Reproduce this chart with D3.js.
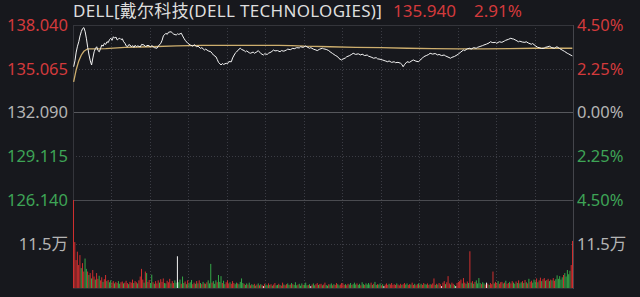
<!doctype html>
<html>
<head>
<meta charset="utf-8">
<script src="https://d3js.org/d3.v7.min.js"></script>
<style type="text/css">
  body{margin:0;background:#17181d;}
  svg{display:block;}
  text{font-family:"Noto Sans","Noto Sans CJK SC",sans-serif;}
  .grid{shape-rendering:crispEdges;}
  .axis path.domain{display:none;}
</style>
</head>
<body>
<svg id="chart" width="640" height="297"></svg>
<script type="text/javascript">
// ---- data ----
var title = 'DELL[戴尔科技(DELL TECHNOLOGIES)]';
var lastPrice = '135.940';
var lastPct = '2.91%';
var preClose = 132.090;
var priceTicks = [138.040, 135.065, 132.090, 129.115, 126.140];
var pctLabels = ['4.50%', '2.25%', '0.00%', '2.25%', '4.50%'];
var tickKind = ['up', 'up', 'flat', 'down', 'down'];
var volTicks = [11.5];
var volTop = 23;
var halfHours = [30, 60, 90, 120, 150, 180, 210, 240, 270, 300, 330, 360];

// [minute, price]
var price = [[0,135.20],[1,135.6],[2,136.2],[3,136.6],[4,136.9],[5,137.3],[6,137.6],[7,137.8],[8,137.86],[9,137.58],
  [10,137.1],[11,136.5],[12,136.0],[13,135.6],[14,135.32],[15,135.8],[16,136.22],[17,136.45],[18,136.56],[19,136.3],
  [20,136.22],[21,136.45],[22,136.68],[23,136.6],[24,136.8],[25,136.72],[26,136.9],[27,136.85],[28,137.05],[29,137.14],
  [30,137.0],[31,137.24],[32,137.15],[33,137.22],[34,137.02],[35,137.1],[36,137.14],[37,137.05],[38,137.1],[39,136.9],
  [40,136.8],[41,136.62],[42,136.56],[43,136.7],[44,136.68],[45,136.55],[46,136.64],[47,136.52],[48,136.66],[49,136.56],
  [50,136.62],[52,136.55],[53,136.72],[55,136.68],[56,136.58],[58,136.66],[60,136.56],[61,136.64],[63,136.5],[65,136.46],
  [66,136.6],[68,136.8],[69,137.0],[70,137.3],[72,137.48],[73,137.4],[74,137.55],[76,137.58],[77,137.5],[78,137.42],
  [80,137.36],[81,137.44],[82,137.4],[84,137.48],[85,137.3],[86,137.14],[87,137.0],[89,136.8],[90,136.74],[91,136.68],
  [93,136.6],[94,136.7],[96,136.56],[97,136.6],[99,136.45],[100,136.5],[102,136.34],[103,136.4],[105,136.28],[107,136.22],
  [108,136.12],[109,136.0],[111,135.88],[112,135.7],[113,135.5],[115,135.32],[116,135.42],[117,135.36],[119,135.44],[120,135.4],
  [121,135.55],[123,135.54],[124,135.8],[126,136.12],[127,136.2],[129,136.4],[130,136.46],[131,136.38],[133,136.3],[134,136.22],
  [135,136.28],[137,136.15],[138,136.12],[140,136.2],[141,136.12],[143,136.22],[144,136.3],[146,136.1],[148,136.0],[149,136.08],
  [151,136.04],[152,136.12],[154,136.2],[156,136.34],[157,136.28],[159,136.3],[161,136.22],[162,136.3],[164,136.26],[166,136.34],
  [167,136.4],[169,136.36],[171,136.46],[172,136.42],[174,136.5],[176,136.48],[177,136.56],[179,136.52],[181,136.61],[182,136.55],
  [184,136.46],[185,136.5],[187,136.4],[189,136.34],[190,136.3],[192,136.4],[194,136.46],[195,136.42],[197,136.38],[199,136.3],
  [200,136.22],[202,136.1],[204,135.98],[206,135.88],[207,135.76],[209,135.66],[210,135.72],[212,135.8],[213,135.88],[215,135.95],
  [217,136.05],[218,136.12],[220,136.04],[222,136.08],[224,136.0],[225,136.06],[227,135.96],[229,136.0],[230,135.92],[232,135.86],
  [234,135.78],[236,135.82],[237,135.74],[239,135.71],[241,135.66],[243,135.6],[245,135.54],[246,135.6],[248,135.5],[250,135.54],
  [251,135.48],[253,135.5],[255,135.44],[256,135.36],[257,135.2],[258,135.34],[260,135.54],[262,135.5],[264,135.62],[265,135.66],
  [267,135.58],[269,135.54],[270,135.64],[272,135.78],[273,135.88],[275,135.96],[277,136.04],[278,136.12],[280,136.06],[282,136.1],
  [284,136.0],[285,136.04],[287,135.96],[289,136.0],[290,135.94],[292,135.86],[294,135.78],[295,135.84],[297,135.9],[299,136.0],
  [300,136.06],[302,136.2],[304,136.34],[305,136.3],[307,136.42],[309,136.46],[310,136.4],[312,136.5],[314,136.46],[315,136.52],
  [317,136.58],[319,136.64],[320,136.68],[322,136.74],[324,136.82],[325,136.9],[327,136.84],[329,136.86],[330,136.8],[332,136.9],
  [334,136.86],[336,136.95],[337,137.0],[339,137.06],[341,137.14],[342,137.1],[343,137.09],[345,137.0],[347,136.9],[348,136.94],
  [350,136.88],[352,136.86],[353,136.9],[355,136.8],[357,136.73],[358,136.78],[360,136.64],[362,136.52],[363,136.5],[365,136.44],
  [367,136.46],[368,136.52],[370,136.56],[371,136.6],[373,136.5],[375,136.46],[376,136.52],[377,136.56],[379,136.44],[381,136.34],
  [383,136.24],[385,136.12],[386,136.08],[388,135.98],[389,135.94]];

// [minute, average price]
var avgPrice = [[0,134.18],[2,135.0],[4,135.6],[6,136.0],[8,136.25],[11,136.42],[15,136.42],[25,136.44],[40,136.52],[60,136.56],
  [80,136.62],[100,136.66],[120,136.66],[140,136.66],[160,136.66],[170,136.64],[180,136.6],[200,136.56],[220,136.52],[240,136.5],
  [260,136.46],[280,136.44],[300,136.42],[320,136.42],[340,136.44],[360,136.46],[389,136.46]];

// volume per minute, in 万 shares
var volume = [
  23,12,7.3,9.5,6,8.6,5.2,6.5,4.3,7.7,  5,4.3,3.4,3.9,2.5,4.7,3,2.2,3.9,2.4,
  3.2,2,2.8,1.6,2.3,3.4,1.8,2.1,1.5,2,  1.4,1.8,1.2,1.6,1.3,1.8,1.1,1.5,1.7,1.2,
  1.4,1.9,1.3,1,1.6,1.4,2.2,1.3,1.8,1.5,  1.2,2,3,5,2.2,1.4,4.3,3.9,1.6,2.1,
  1.3,3.5,1.5,1.1,1.8,1.2,2,1.4,2.3,1.6,  2.5,1.3,1.2,1.9,1.5,2.4,1.2,1.8,1.3,2,
  1.4,8.3,1.5,2.2,1.1,3,1.3,1.7,1,2,  1.2,1.5,2.1,1,1.4,1.1,1.8,1.2,2,1.3,
  1,1.6,1.2,1.1,1.5,2,1.2,6.3,1.4,1.8,  1.1,2,1.5,3.4,1.6,3.1,1.3,1.9,1,1.5,
  2,1.2,1.5,1.1,1.8,1.3,1,1.4,1.2,1,  1.6,2.5,1.3,1.1,0.8,1.2,0.9,1.4,0.7,1,
  0.8,1.1,0.6,0.9,1.2,0.7,1,0.8,0.5,1.1,  0.9,0.7,1.2,0.8,1,0.6,0.9,1.3,0.7,0.8,
  1.1,0.8,0.6,1.4,0.9,0.7,1,1.2,0.8,0.9,  1.3,1,0.8,1.5,0.7,0.9,1.1,0.6,1.2,0.8,
  0.9,1.4,0.7,0.8,1,0.5,0.9,1.2,0.7,1,  1.3,0.8,1,1.1,0.7,0.9,1.4,0.8,0.6,1,
  0.9,1.2,0.7,1,0.8,1.3,1,0.7,0.9,1.3,  1.2,0.8,1,0.7,1.1,0.9,1.3,0.8,1,1.4,
  0.9,1.2,0.8,1.1,0.7,1.5,1,0.8,1.2,0.9,  1.3,0.9,1.4,0.8,1.1,1.6,0.8,1,0.9,1.2,
  0.7,1,0.5,0.9,1.2,0.8,1.1,0.9,1.3,0.8,  1,0.8,1.2,0.9,0.7,1.1,0.8,1,1.3,0.9,
  1.2,0.8,1,0.9,1.4,0.8,1.1,0.7,1,1.2,  0.9,1.1,0.8,1.3,1,0.9,1.2,0.8,1,0.9,
  1.2,2.5,0.8,1.1,0.9,1.3,1,0.5,1.4,1.8,  1,1.5,3.1,1.2,0.9,1.4,1.1,0.8,0.5,1.3,
  1.6,1.8,2.2,1.2,2.6,1.4,1.1,1.7,1.3,9.6,  1.4,1.8,1.1,1.6,2,1.2,2.6,1.3,1,1.5,
  1.2,0.9,1.4,1.1,0.8,1.3,1,4.3,1.2,1.6,  1.3,1.8,1.1,1.5,1.6,1.2,1.4,1.9,1.1,1.3,
  1.6,1.2,1.8,1.4,1.1,1.7,1.3,2,1.2,1.5,  1.8,1.3,2.1,1.5,1.2,2.4,1.6,1.9,1.4,2.2,
  1.7,2.5,1.5,2,2.7,1.8,2.3,2.6,1.9,2.1,  2.4,1.8,2.2,2,2.6,1.9,2.3,3.3,2.4,3.1,
  2.2,2.8,3.4,3.9,3,4.7,3.6,4.5,6,12.3];

// r = up tick, g = down tick, w = unchanged
var volDir =
  'rrrrrrgrrg' + 'grgrgrrgrr' + 'grrgrrgrgg' + 'rrgrrggrrg' + 'rrrgrrrgrr' + 'grrrrgrgrr' +
  'ggrgrrrgrr' + 'rggrrrgrrg' + 'gwggrggrgr' + 'gggrrgrgrg' + 'rgrgrgggrg' + 'ggrgggrggr' +
  'rrgrrrggrg' + 'gggrggrgrg' + 'grgrgrgrwr' + 'ggrgrgrrgg' + 'rgrrgrrggr' + 'grgggrgggr' +
  'gggrgwrggr' + 'rgrrgrrggr' + 'ggrgrrggrr' + 'rrgrrggrgg' + 'grggrggrgg' + 'ggrgrggrgg' +
  'rgwrrrgrrr' + 'rrgrrrgrrg' + 'grrgrrgrrg' + 'rgrrggrrgr' + 'rrgrgrrwrr' + 'grrrgrrgwr' +
  'rrrgrrgrgr' + 'grgrggggrg' + 'grwrgrrrgr' + 'rgrrrgrgrr' + 'grrggrgrgg' + 'rgrgrgrrgg' +
  'grgrrgrrgr' + 'rgrgrrgggg' + 'ggrgggggrr';

// ---- layout ----
var plotL = 73, plotR = 573, plotT = 25, plotM = 200, plotB = 288;
var colors = {up:'#d33a3c', down:'#3ea456', flat:'#b4b4b4'};
var barColors = {r:'#cf2f2f', g:'#35a848', w:'#f2f2f2'};

var svg = d3.select('#chart');
svg.append('rect').attr('width',640).attr('height',297).attr('fill','#17181d');

var xTime = d3.scaleLinear().domain([0,390]).range([plotL,plotR]);
var xBar = d3.scaleBand().domain(d3.range(volume.length)).range([plotL,plotR]).paddingInner(0.22);
var yPrice = d3.scaleLinear().domain([priceTicks[4],priceTicks[0]]).range([plotM,plotT]);
var yVol = d3.scaleLinear().domain([0,volTop]).range([plotB,plotM]);

// grid
var g = svg.append('g').attr('class','grid');
g.selectAll('line.v').data(halfHours).enter().append('line').attr('class','v')
  .attr('x1',(d)=>Math.round(xTime(d))+0.5).attr('x2',(d)=>Math.round(xTime(d))+0.5)
  .attr('y1',plotT).attr('y2',plotB)
  .style('stroke','#3b3c44').style('stroke-dasharray','1,2');
g.selectAll('line.h').data(priceTicks).enter().append('line').attr('class','h')
  .attr('x1',plotL).attr('x2',plotR)
  .attr('y1',(d)=>Math.round(yPrice(d))+0.5).attr('y2',(d)=>Math.round(yPrice(d))+0.5)
  .style('stroke',(d,i)=> i==2 ? '#56575c' : (i==4 ? '#4a4b50' : (i==0 ? '#34353b' : '#3b3c44')))
  .style('stroke-dasharray',(d,i)=> (i==1||i==3) ? '1,2' : null);
g.selectAll('line.hv').data(volTicks).enter().append('line').attr('class','hv')
  .attr('x1',plotL).attr('x2',plotR)
  .attr('y1',(d)=>Math.round(yVol(d))+0.5).attr('y2',(d)=>Math.round(yVol(d))+0.5)
  .style('stroke','#3b3c44').style('stroke-dasharray','1,2');
// frame
g.append('line').attr('x1',plotL+0.5).attr('x2',plotL+0.5).attr('y1',plotT).attr('y2',plotB+1).style('stroke','#34353b');
g.append('line').attr('x1',plotR+0.5).attr('x2',plotR+0.5).attr('y1',plotT).attr('y2',plotB+1).style('stroke','#44454b');
g.append('line').attr('x1',plotL).attr('x2',plotR).attr('y1',plotB+0.5).attr('y2',plotB+0.5).style('stroke','#2c2d33');

// volume bars
svg.append('g').selectAll('rect').data(volume).enter().append('rect')
  .attr('x',(d,i)=>xBar(i))
  .attr('width',xBar.bandwidth())
  .attr('y',(d)=>yVol(d))
  .attr('height',(d)=>yVol(0)-yVol(d))
  .attr('fill',(d,i)=>barColors[volDir[i]]);

// average line then price line
var line = d3.line().x((d)=>xTime(d[0]+0.5)).y((d)=>yPrice(d[1]));
svg.append('path').datum(avgPrice).attr('d',line)
  .style('fill','none').style('stroke','#cdae6e').style('stroke-width',1.3);
svg.append('path').datum(price).attr('d',line)
  .style('fill','none').style('stroke','#f4f4f4').style('stroke-width',1);

// axes
var leftAxis = d3.axisLeft(yPrice).tickValues(priceTicks).tickFormat(d3.format('.3f')).tickSize(0).tickPadding(5);
var rightAxis = d3.axisRight(yPrice).tickValues(priceTicks).tickFormat((d,i)=>pctLabels[i]).tickSize(0).tickPadding(4);
var volLeft = d3.axisLeft(yVol).tickValues(volTicks).tickFormat((d)=>d+'万').tickSize(0).tickPadding(5);
var volRight = d3.axisRight(yVol).tickValues(volTicks).tickFormat((d)=>d+'万').tickSize(0).tickPadding(4);

function styleAxis(sel, colorFn){
  sel.attr('class','axis');
  sel.selectAll('text').style('font-size','16.5px').style('font-family','"Noto Sans","Noto Sans CJK SC",sans-serif')
    .attr('fill',colorFn);
}
svg.append('g').attr('transform','translate('+plotL+',0)').call(leftAxis)
  .call((s)=>styleAxis(s,(d,i)=>colors[tickKind[i]]));
svg.append('g').attr('transform','translate('+plotR+',0)').call(rightAxis)
  .call((s)=>styleAxis(s,(d,i)=>colors[tickKind[i]]));
svg.append('g').attr('transform','translate('+plotL+',0)').call(volLeft)
  .call((s)=>styleAxis(s,()=>colors.flat));
svg.append('g').attr('transform','translate('+plotR+',0)').call(volRight)
  .call((s)=>styleAxis(s,()=>colors.flat));

// title
var t = svg.append('text').attr('y',17).style('font-size','17px');
t.append('tspan').attr('x',plotL).attr('fill','#dedede').style('letter-spacing','0.3px').text(title);
t.append('tspan').attr('x',393).attr('fill',colors.up).text(lastPrice);
t.append('tspan').attr('x',474).attr('fill',colors.up).text(lastPct);
</script>
</body>
</html>
